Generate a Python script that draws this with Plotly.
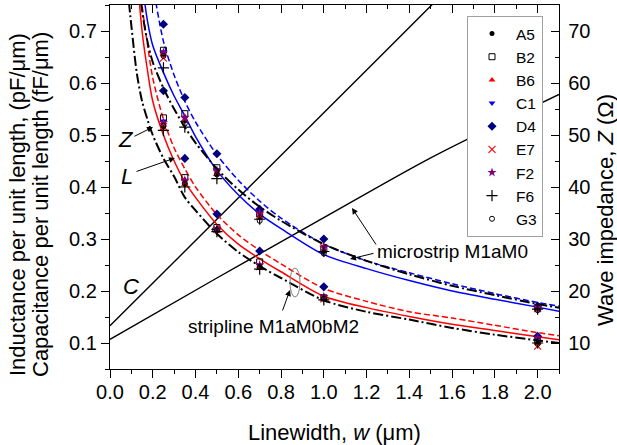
import plotly.graph_objects as go

# ---------------- data ----------------
widths = [0.25, 0.35, 0.5, 0.7, 1.0, 2.0]

# measured per-unit-length values, microstrip (upper group) and stripline (lower group)
A5_ms = [0.655, 0.528, 0.425, 0.342, 0.276, 0.165]
A5_sl = [0.515, 0.405, 0.316, 0.245, 0.186, 0.100]
B2_ms = [0.663, 0.541, 0.437, 0.348, 0.280, 0.168]
B2_sl = [0.533, 0.418, 0.322, 0.256, 0.187, 0.103]
B6_ms = [0.657, 0.535, 0.432, 0.351, 0.287, 0.167]
B6_sl = [0.525, 0.414, 0.320, 0.248, 0.190, 0.112]
C1_ms = [0.660, 0.534, 0.433, 0.350, 0.285, 0.167]
C1_sl = [0.527, 0.412, 0.319, 0.250, 0.189, 0.110]
D4_ms = [0.713, 0.572, 0.464, 0.357, 0.300, 0.171]
D4_sl = [0.585, 0.455, 0.348, 0.277, 0.208, 0.113]
E7_ms = [0.648, 0.530, 0.428, 0.345, 0.283, 0.166]
E7_sl = [0.516, 0.408, 0.318, 0.247, 0.185, 0.094]
F2_ms = [0.659, 0.533, 0.432, 0.350, 0.284, 0.167]
F2_sl = [0.524, 0.413, 0.320, 0.250, 0.189, 0.110]
F6_ms = [0.629, 0.515, 0.416, 0.338, 0.276, 0.165]
F6_sl = [0.509, 0.400, 0.314, 0.242, 0.183, 0.100]
G3_ms = [0.652, 0.522, 0.424, 0.335, 0.272, 0.163]
G3_sl = [0.518, 0.407, 0.317, 0.246, 0.185, 0.098]

# model curves
w_model = [0.08, 0.1, 0.125, 0.15, 0.175, 0.2, 0.25, 0.3, 0.35, 0.4, 0.5, 0.6,
           0.7, 0.8, 1.0, 1.2, 1.4, 1.6, 1.8, 2.0, 2.1]
L_ms_solid = [1.40, 1.15, 0.95, 0.80, 0.72, 0.672, 0.62, 0.575, 0.537, 0.497, 0.432,
              0.385, 0.348, 0.32, 0.27, 0.243, 0.22, 0.20, 0.184, 0.169, 0.161]
L_ms_dash = [1.60, 1.35, 1.12, 0.96, 0.86, 0.79, 0.68, 0.615, 0.565, 0.525, 0.462,
             0.413, 0.373, 0.34, 0.29, 0.258, 0.235, 0.214, 0.195, 0.178, 0.171]
L_sl_solid = [1.20, 0.98, 0.82, 0.70, 0.625, 0.565, 0.50, 0.45, 0.41, 0.38, 0.328,
              0.29, 0.262, 0.237, 0.19, 0.168, 0.151, 0.136, 0.124, 0.112, 0.106]
L_sl_dash = [1.30, 1.06, 0.88, 0.75, 0.675, 0.61, 0.53, 0.475, 0.435, 0.40, 0.347,
             0.308, 0.278, 0.252, 0.205, 0.18, 0.16, 0.148, 0.134, 0.12, 0.114]
Z_ms = [110, 98, 86, 74, 68, 64, 59, 55, 51.5, 48.5, 43.5, 39.5,
        36.2, 33.5, 29, 25.8, 23.2, 21, 19.2, 17.5, 16.8]
Z_sl = [79, 71, 62, 56.5, 53, 50, 45.5, 42, 38, 35.5, 31, 27.5,
        24.8, 22.5, 18.2, 16, 14.5, 12.9, 11.6, 10.5, 10.0]

w_cap = [0.0, 0.5, 1.0, 1.5, 2.1]
C_ms = [0.107, 0.225, 0.341, 0.456, 0.578]
C_sl = [0.133, 0.338, 0.543, 0.748, 0.994]

series_names = ["A5", "B2", "B6", "C1", "D4", "E7", "F2", "F6", "G3"]
series_ms = [A5_ms, B2_ms, B6_ms, C1_ms, D4_ms, E7_ms, F2_ms, F6_ms, G3_ms]
series_sl = [A5_sl, B2_sl, B6_sl, C1_sl, D4_sl, E7_sl, F2_sl, F6_sl, G3_sl]

# ---------------- styles ----------------
styles = {
    "A5": dict(symbol="circle", color="black", size=5, line=dict(width=0)),
    "B2": dict(symbol="square-open", color="black", size=6, line=dict(width=1)),
    "B6": dict(symbol="triangle-up", color="#ff0000", size=6, line=dict(width=0)),
    "C1": dict(symbol="triangle-down", color="#0000ff", size=6, line=dict(width=0)),
    "D4": dict(symbol="diamond", color="#000080", size=7, line=dict(width=0)),
    "E7": dict(symbol="x-thin-open", color="#ff0000", size=7, line=dict(width=1.1, color="#ff0000")),
    "F2": dict(symbol="star", color="#800080", size=7, line=dict(width=0)),
    "F6": dict(symbol="cross-thin-open", color="black", size=8, line=dict(width=1.2, color="black")),
    "G3": dict(symbol="circle-open", color="black", size=5, line=dict(width=1)),
}

FONT = "Liberation Sans, Arial, sans-serif"
fig = go.Figure()

def add_line(x, y, color, dash, width, yaxis="y"):
    fig.add_trace(go.Scatter(x=x, y=y, mode="lines", yaxis=yaxis, showlegend=False,
                             line=dict(color=color, dash=dash, width=width,
                                       shape="spline", smoothing=0.8),
                             hoverinfo="skip"))

add_line(w_cap, C_ms, "black", "solid", 1.4)
add_line(w_cap, C_sl, "black", "solid", 1.4)
add_line(w_model, L_sl_solid, "#ff0000", "solid", 1.5)
add_line(w_model, L_sl_dash, "#ff0000", "6px,3px", 1.5)
add_line(w_model, L_ms_solid, "#0000ff", "solid", 1.5)
add_line(w_model, L_ms_dash, "#0000ff", "6px,3px", 1.5)
add_line(w_model, Z_ms, "black", "10px,3px,2px,3px", 2, yaxis="y2")
add_line(w_model, Z_sl, "black", "10px,3px,2px,3px", 2, yaxis="y2")

for name, ms, sl in zip(series_names, series_ms, series_sl):
    st = styles[name]
    fig.add_trace(go.Scatter(
        x=widths + widths, y=ms + sl, mode="markers", name=name,
        marker=dict(symbol=st["symbol"], color=st["color"], size=st["size"], line=st["line"]),
    ))

# ---------------- layout ----------------
L, R, T, B = 110, 58, 5, 76
W, H = 617, 445
pw, ph = W - L - R, H - T - B
XR = [0.0, 2.1]
YR = [0.05, 0.75]
YR2 = [5, 75]

def px2x(px):
    return XR[0] + (px - L) / pw * (XR[1] - XR[0])

def py2y(py):
    return YR[1] - (py - T) / ph * (YR[1] - YR[0])

tickfont = dict(family=FONT, size=20, color="black")
axis_common = dict(showgrid=False, zeroline=False, showline=True, linecolor="black",
                   linewidth=1.4, tickcolor="black", tickwidth=1.4)

fig.update_layout(
    width=W, height=H, margin=dict(l=L, r=R, t=T, b=B),
    paper_bgcolor="white", plot_bgcolor="white",
    font=dict(family=FONT, color="black"),
    xaxis=dict(range=XR, dtick=0.2, tick0=0, ticks="outside", ticklen=8,
               tickformat=".1f", tickfont=tickfont, ticklabelstandoff=-3,
               minor=dict(dtick=0.1, ticks="outside", ticklen=4, tickcolor="black", tickwidth=1.4),
               **axis_common),
    xaxis2=dict(range=XR, overlaying="x", side="top", dtick=0.2, tick0=0, ticks="inside",
                ticklen=8, showticklabels=False,
                minor=dict(dtick=0.1, ticks="inside", ticklen=4, tickcolor="black", tickwidth=1.4),
                **axis_common),
    yaxis=dict(range=YR, dtick=0.1, tick0=0.1, ticks="outside", ticklen=8,
               tickformat=".1f", tickfont=tickfont,
               minor=dict(dtick=0.05, tick0=0.05, ticks="outside", ticklen=4, tickcolor="black", tickwidth=1.4),
               **axis_common),
    yaxis2=dict(range=YR2, overlaying="y", side="right", dtick=10, tick0=10,
                ticks="inside", ticklen=8, tickfont=tickfont, ticklabelstandoff=4,
                minor=dict(dtick=5, ticks="inside", ticklen=4, tickcolor="black", tickwidth=1.4),
                **axis_common),
    legend=dict(x=(467 - L) / pw, y=1 - (16 - T) / ph, xanchor="left", yanchor="top",
                bgcolor="white", bordercolor="#a0a0a0", borderwidth=1, itemwidth=38,
                font=dict(family=FONT, size=15.5, color="black"), tracegroupgap=0),
    showlegend=True,
)

fig.add_trace(go.Scatter(x=[None], y=[None], xaxis="x2", showlegend=False, hoverinfo="skip"))

tf = dict(family=FONT, size=22, color="black")
ann = []
ann.append(dict(text="Linewidth, <i>w</i> (\u03bcm)", xref="paper", yref="paper",
                x=0.5, y=1 - (432 - T) / ph, showarrow=False, font=tf, yanchor="middle"))
ann.append(dict(text="Inductance per unit length, (pF/\u03bcm)", xref="paper", yref="paper",
                x=(17 - L) / pw, y=1 - (205 - T) / ph, showarrow=False, font=tf,
                textangle=-90, xanchor="center", yanchor="middle"))
ann.append(dict(text="Capacitance per unit length (fF/\u03bcm)", xref="paper", yref="paper",
                x=(40 - L) / pw, y=1 - (205 - T) / ph, showarrow=False, font=tf,
                textangle=-90, xanchor="center", yanchor="middle"))
ann.append(dict(text="Wave impedance, <i>Z</i> (\u03a9)", xref="paper", yref="paper",
                x=(605 - L) / pw, y=1 - (210 - T) / ph, showarrow=False, font=tf,
                textangle=-90, xanchor="center", yanchor="middle"))

lf = dict(family=FONT, size=22, color="black")
ann.append(dict(text="<i>Z</i>", x=px2x(126), y=py2y(139), xref="x", yref="y",
                showarrow=False, font=lf))
ann.append(dict(text="<i>L</i>", x=px2x(127), y=py2y(176), xref="x", yref="y",
                showarrow=False, font=lf))
ann.append(dict(text="<i>C</i>", x=px2x(131), y=py2y(286), xref="x", yref="y",
                showarrow=False, font=lf))
ann.append(dict(text="microstrip M1aM0", x=px2x(452), y=py2y(251), xref="x", yref="y",
                showarrow=False, font=dict(family=FONT, size=19, color="black")))
ann.append(dict(text="stripline M1aM0bM2", x=px2x(273), y=py2y(326), xref="x", yref="y",
                showarrow=False, font=dict(family=FONT, size=19, color="black")))

arrows = [((133, 137), (153, 127)), ((135, 172), (175, 158)),
          ((377, 246), (352, 208)), ((375, 253), (350, 259)),
          ((282, 312), (290, 290))]
for (tx, ty), (hx, hy) in arrows:
    ann.append(dict(text="", x=px2x(hx), y=py2y(hy), ax=px2x(tx), ay=py2y(ty),
                    xref="x", yref="y", axref="x", ayref="y", showarrow=True,
                    arrowhead=2, arrowsize=1.2, arrowwidth=1, arrowcolor="black"))
fig.update_layout(annotations=ann)

fig.add_shape(type="circle", xref="x", yref="y", x0=px2x(290), x1=px2x(300),
              y0=py2y(297), y1=py2y(268), line=dict(color="#808080", width=1))

fig.write_html("out.html")
